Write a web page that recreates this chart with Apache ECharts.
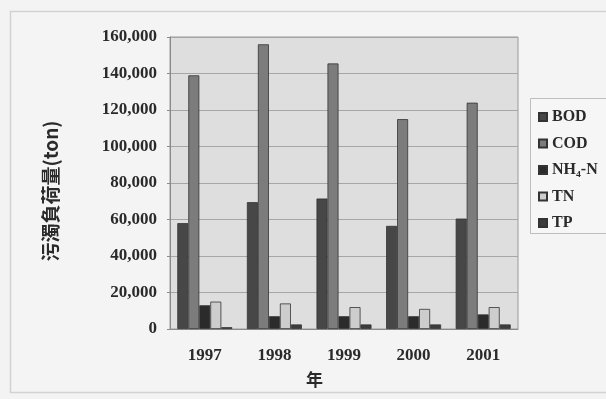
<!DOCTYPE html>
<html>
<head>
<meta charset="utf-8">
<script src="https://cdn.jsdelivr.net/npm/echarts@6/dist/echarts.min.js"></script>
<style>
  html, body { margin: 0; padding: 0; background: #f3f3f3; }
  #chart { width: 606px; height: 399px; }
</style>
</head>
<body>
<div id="chart"></div>
<script>
// Annual pollutant loads (ton)
const years = ['1997', '1998', '1999', '2000', '2001'];
const seriesNames = ['BOD', 'COD', 'NH₄-N', 'TN', 'TP'];
const bod = [58000, 69500, 71500, 56500, 60500];
const cod = [139000, 156000, 145500, 115000, 124000];
const nh4n = [13000, 7000, 7000, 7000, 8000];
const tn = [15000, 14000, 12000, 11000, 12000];
const tp = [1000, 2500, 2500, 2500, 2500];
const yTicks = [0, 20000, 40000, 60000, 80000, 100000, 120000, 140000, 160000];

const serif = '"Liberation Serif", "DejaVu Serif", serif';
const fills = ['#474747', '#7c7c7c', '#2b2b2b', '#cdcdcd', '#3c3c3c'];
const values = [bod, cod, nh4n, tn, tp];

const chart = echarts.init(document.getElementById('chart'));
chart.setOption({
  backgroundColor: '#f3f3f3',
  animation: false,
  graphic: [
    { type: 'rect', z: -10, shape: { x: 10.5, y: 11.5, width: 620, height: 381 },
      style: { fill: '#f4f4f4', stroke: '#d2d2d2', lineWidth: 1.5 } },
    { type: 'rect', z: -9, shape: { x: 530.5, y: 98.5, width: 100, height: 135 },
      style: { fill: '#f6f6f6', stroke: '#bdbdbd', lineWidth: 1 } },
    { type: 'text', left: 306, top: 371,
      style: { text: '年', font: 'bold 17px "Noto Sans CJK TC", sans-serif', fill: '#2a2a2a' } }
  ],
  legend: {
    orient: 'vertical', left: 533, top: 104, itemWidth: 8, itemHeight: 8,
    itemGap: 10.5, icon: 'rect',
    textStyle: { fontFamily: serif, fontWeight: 'bold', fontSize: 16, color: '#2a2a2a' },
    data: seriesNames
  },
  grid: { left: 170, top: 37, right: 88, bottom: 70, show: true,
    backgroundColor: '#dedede', borderColor: '#9a9a9a', borderWidth: 1 },
  xAxis: {
    type: 'category', data: years,
    axisLine: { lineStyle: { color: '#8a8a8a' } },
    axisTick: { show: false },
    axisLabel: { margin: 18, fontFamily: serif, fontWeight: 'bold', fontSize: 17, color: '#2a2a2a' }
  },
  yAxis: {
    type: 'value', min: 0, max: 160000, interval: 20000,
    name: '污濁負荷量(ton)', nameLocation: 'middle', nameGap: 110, nameRotate: 90,
    nameTextStyle: { fontFamily: '"Noto Sans CJK TC", ' + serif, fontWeight: 'bold', fontSize: 19, color: '#2a2a2a',
      padding: [0, 16, 0, 0] },
    axisLine: { show: true, lineStyle: { color: '#8a8a8a' } },
    axisTick: { show: true, length: 3, lineStyle: { color: '#8a8a8a' } },
    splitLine: { lineStyle: { color: '#a6a6a6' } },
    axisLabel: { margin: 13, fontFamily: serif, fontWeight: 'bold', fontSize: 17, color: '#2a2a2a',
      formatter: v => yTicks.includes(v) ? v.toLocaleString('en-US') : '' }
  },
  series: seriesNames.map((name, i) => ({
    name, type: 'bar', data: values[i],
    barGap: '0%', barCategoryGap: '21%',
    itemStyle: { color: fills[i], borderColor: '#333', borderWidth: 0.8 }
  }))
});
</script>
</body>
</html>
